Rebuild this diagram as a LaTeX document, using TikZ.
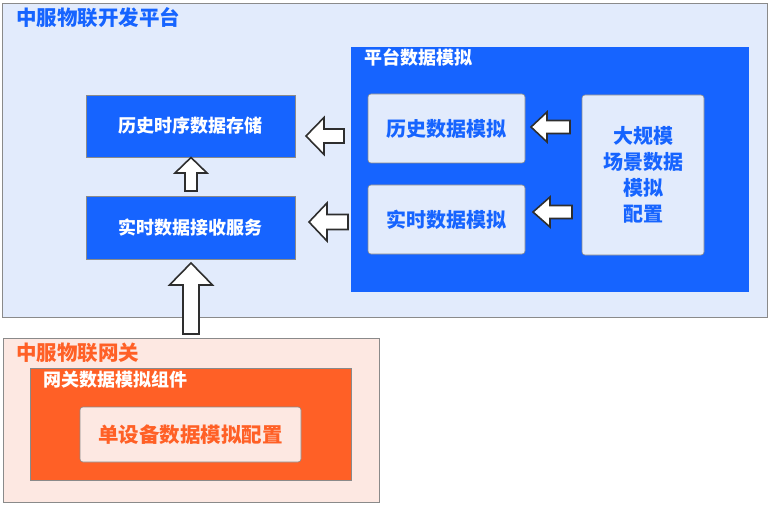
\documentclass[tikz,border=0pt]{standalone}
\usepackage{fontspec}
\setmainfont{Noto Sans CJK SC}
\usetikzlibrary{positioning}
\definecolor{cblue}{HTML}{1664FF}
\definecolor{lblue}{HTML}{E2EBFC}
\definecolor{corange}{HTML}{FF6026}
\definecolor{lpink}{HTML}{FDE8E2}
\definecolor{bordergray}{HTML}{8A8A8A}
\definecolor{arrowgray}{HTML}{2E2E2E}
\begin{document}
\begin{tikzpicture}[x=1pt,y=-1pt,
  region/.style={draw=bordergray,line width=0.8pt,inner sep=0pt},
  bluebox/.style={draw=bordergray,line width=0.6pt,fill=cblue,inner sep=0pt,text=white,
    font=\fontsize{18}{22}\selectfont\bfseries},
  lightbox/.style={draw=bordergray,line width=0.6pt,fill=lblue,rounded corners=3pt,inner sep=0pt,
    text=cblue,font=\fontsize{20}{24}\selectfont\bfseries},
  pinkbox/.style={draw=bordergray,line width=0.6pt,fill=lpink,rounded corners=3pt,inner sep=0pt,
    text=corange,font=\fontsize{20.5}{24}\selectfont\bfseries},
  title/.style={anchor=west,inner sep=0pt,font=\bfseries},
  barrow/.style={draw=arrowgray,fill=white,line width=1.6pt,line join=miter}
]
\useasboundingbox (0,0) rectangle (771,505);
\fill[white] (0,0) rectangle (771,505);

% platform region
\node[region,fill=lblue,minimum width=765pt,minimum height=314pt] (platform) at (384.5,160) {};
\node[title,text=cblue,font=\fontsize{20.5}{24}\selectfont\bfseries] (ptitle) at (16,18) {中服物联开发平台};

\node[bluebox,minimum width=209pt,minimum height=62pt] (store) at (190.5,126) {历史时序数据存储};
\node[bluebox,minimum width=209pt,minimum height=63pt] (recv) at (190.5,227.5) {实时数据接收服务};

\node[fill=cblue,inner sep=0pt,minimum width=398pt,minimum height=245pt] (simbox) at (550,169.5) {};
\node[title,text=white,font=\fontsize{18}{20}\selectfont\bfseries] (simtitle) at (364,58) {平台数据模拟};

\node[lightbox,minimum width=157pt,minimum height=69pt] (hist) at (446.5,128.5) {历史数据模拟};
\node[lightbox,minimum width=157pt,minimum height=69pt] (real) at (446.5,219.5) {实时数据模拟};
\node[lightbox,minimum width=122pt,minimum height=160pt,align=center,
  font=\fontsize{20}{26}\selectfont\bfseries] (big) at (643,175) {大规模\\场景数据\\模拟\\配置};

% gateway region
\node[region,fill=lpink,minimum width=376pt,minimum height=164pt] (gw) at (191,420) {};
\node[title,text=corange,font=\fontsize{20.5}{24}\selectfont\bfseries] (gwtitle) at (16,353) {中服物联网关};
\node[draw=bordergray,line width=0.6pt,fill=corange,inner sep=0pt,minimum width=321pt,minimum height=112pt] (comp) at (190.5,424) {};
\node[title,text=white,font=\fontsize{18}{20}\selectfont\bfseries] (comptitle) at (43,380) {网关数据模拟组件};
\node[pinkbox,minimum width=221pt,minimum height=55pt] (single) at (190.5,434.5) {单设备数据模拟配置};

% block arrows
% hist -> store
\draw[barrow] (306,136) -- (324,117.5) -- (324,129) -- (344,129) -- (344,143) -- (324,143) -- (324,154.5) -- cycle;
% real -> recv
\draw[barrow] (309,222) -- (327,203) -- (327,214.5) -- (348,214.5) -- (348,229.5) -- (327,229.5) -- (327,241) -- cycle;
% big -> hist
\draw[barrow] (531,127) -- (547,112) -- (547,120.5) -- (570,120.5) -- (570,133.5) -- (547,133.5) -- (547,142) -- cycle;
% big -> real
\draw[barrow] (533,212) -- (550,197) -- (550,205.5) -- (572,205.5) -- (572,218.5) -- (550,218.5) -- (550,227) -- cycle;
% recv -> store
\draw[barrow] (191,157.5) -- (207,173) -- (197,173) -- (197,191) -- (185,191) -- (185,173) -- (175,173) -- cycle;
% gateway -> recv
\draw[barrow] (191,263) -- (212.5,285) -- (199,285) -- (199,334) -- (183,334) -- (183,285) -- (169.5,285) -- cycle;
\end{tikzpicture}
\end{document}
